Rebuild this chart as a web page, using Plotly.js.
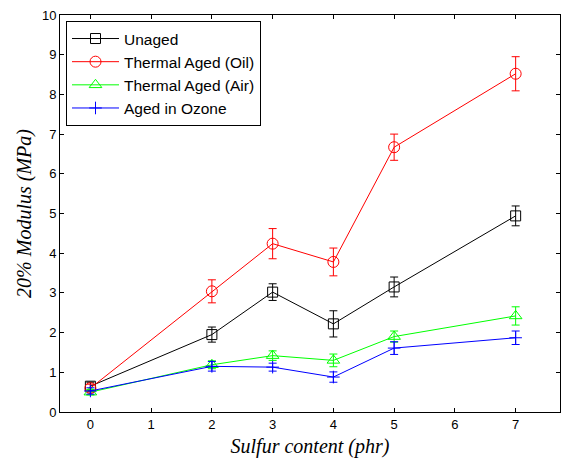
<!DOCTYPE html>
<html>
<head>
<meta charset="utf-8">
<script src="https://cdn.plot.ly/plotly-3.0.1.min.js"></script>
<style>html,body{margin:0;padding:0;background:#fff;}#chart{width:563px;height:461px;}</style>
</head>
<body>
<div id="chart"></div>
<script>
const sulfur = [0, 2, 3, 4, 5, 7];
const seriesNames = ["Unaged", "Thermal Aged (Oil)", "Thermal Aged (Air)", "Aged in Ozone"];
const unaged = [0.65, 1.95, 3.02, 2.22, 3.15, 4.94];
const unagedErr = [0.1, 0.19, 0.21, 0.33, 0.25, 0.25];
const oil = [0.6, 3.04, 4.24, 3.78, 6.67, 8.52];
const oilErr = [0.1, 0.29, 0.38, 0.35, 0.33, 0.43];
const air = [0.5, 1.19, 1.42, 1.3, 1.9, 2.42];
const airErr = [0.07, 0.1, 0.12, 0.16, 0.14, 0.23];
const ozone = [0.53, 1.15, 1.13, 0.88, 1.61, 1.87];
const ozoneErr = [0.08, 0.12, 0.1, 0.13, 0.16, 0.17];
const yTicks = [0,1,2,3,4,5,6,7,8,9,10];
const xTicks = [0,1,2,3,4,5,6,7];

function tr(name, y, err, color, symbol, size) {
  return {
    x: sulfur, y: y, name: name, type: 'scatter', mode: 'lines+markers',
    line: {color: color, width: 1},
    marker: {symbol: symbol, size: size, color: color, line: {color: color, width: 1}},
    error_y: {type: 'data', array: err, visible: true, color: color, thickness: 1, width: 4}
  };
}
const data = [
  tr(seriesNames[0], unaged, unagedErr, '#000000', 'square-open', 10),
  tr(seriesNames[1], oil, oilErr, '#ff0000', 'circle-open', 11),
  tr(seriesNames[2], air, airErr, '#00ff00', 'triangle-up-open', 11),
  tr(seriesNames[3], ozone, ozoneErr, '#0000ff', 'cross-thin-open', 9)
];
const serif = '"Liberation Serif", "Times New Roman", serif';
const sans = 'Arial, "Liberation Sans", sans-serif';
const axisCommon = {
  showline: true, linecolor: '#000', linewidth: 1, mirror: 'ticks',
  ticks: 'inside', ticklen: 4, tickcolor: '#000', showgrid: false, zeroline: false,
  tickfont: {family: sans, size: 13, color: '#000'}
};
const layout = {
  width: 563, height: 461,
  margin: {l: 60, r: 3, t: 15, b: 49},
  paper_bgcolor: '#fff', plot_bgcolor: '#fff',
  showlegend: true,
  legend: {
    x: 0.012, y: 0.985, xanchor: 'left', yanchor: 'top',
    bgcolor: '#fff', bordercolor: '#000', borderwidth: 1,
    font: {family: sans, size: 15.5, color: '#000'},
    tracegroupgap: 0, itemwidth: 47
  },
  xaxis: Object.assign({}, axisCommon, {
    range: [-0.5, 7.73], tickvals: xTicks,
    title: {text: 'Sulfur content (phr)', standoff: 8, font: {family: serif, size: 20, color: '#000', style: 'italic'}}
  }),
  yaxis: Object.assign({}, axisCommon, {
    range: [0, 10], tickvals: yTicks,
    title: {text: '20% Modulus (MPa)', standoff: 4, font: {family: serif, size: 20, color: '#000', style: 'italic'}}
  })
};
Plotly.newPlot('chart', data, layout, {displayModeBar: false, staticPlot: true});
</script>
</body>
</html>
